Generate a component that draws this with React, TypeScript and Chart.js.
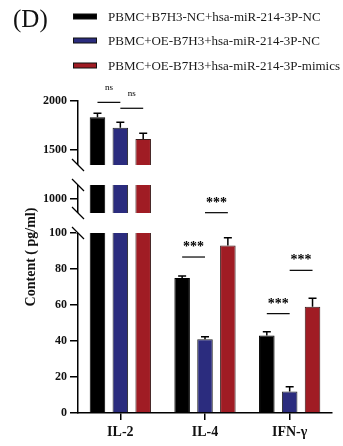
import React, { useEffect, useRef } from 'react';
import { Chart, registerables, LinearScale } from 'chart.js';

const categories = ['IL-2', 'IL-4', 'IFN-γ'];
const seriesNames = [
  'PBMC+B7H3-NC+hsa-miR-214-3P-NC',
  'PBMC+OE-B7H3+hsa-miR-214-3P-NC',
  'PBMC+OE-B7H3+hsa-miR-214-3P-mimics',
];
const controlValues = [1834, 75, 43];
const controlErrors = [40, 1.1, 2.2];
const oeValues = [1728, 41, 12];
const oeErrors = [55, 1.3, 2.6];
const mimicValues = [1612, 93, 59];
const mimicErrors = [58, 4.4, 4.7];

const yTickValues = [0, 20, 40, 60, 80, 100, 1000, 1500, 2000];

// significance brackets
const sigCategory = [0, 0, 1, 1, 2, 2];
const sigFrom = [0, 1, 0, 1, 0, 1];
const sigTo = [1, 2, 1, 2, 1, 2];
const sigLabels = ['ns', 'ns', '***', '***', '***', '***'];
const sigGaps = [11, 14, 19, 25, 18, 28];

// broken axis: value knots and their fraction along the axis
const breakValues = [0, 100, 950, 1050, 1347, 2000];
const breakFractions = [0, 180 / 312, 200 / 312, 228 / 312, 248 / 312, 1];
const gapRanges: [number, number][] = [
  [100, 950],
  [1050, 1347],
];

const colors = ['#000000', '#2b2c7e', '#a01c24'];
const borders = ['#000000', '#222222', '#3a1a1a'];
const FONT = "'Liberation Serif', 'Times New Roman', serif";

function toFrac(v: number): number {
  for (let i = 1; i < breakValues.length; i++) {
    if (v <= breakValues[i] || i === breakValues.length - 1) {
      const v0 = breakValues[i - 1], v1 = breakValues[i];
      const f0 = breakFractions[i - 1], f1 = breakFractions[i];
      return f0 + ((v - v0) / (v1 - v0)) * (f1 - f0);
    }
  }
  return 0;
}
function fromFrac(f: number): number {
  for (let i = 1; i < breakFractions.length; i++) {
    if (f <= breakFractions[i] || i === breakFractions.length - 1) {
      const v0 = breakValues[i - 1], v1 = breakValues[i];
      const f0 = breakFractions[i - 1], f1 = breakFractions[i];
      return v0 + ((f - f0) / (f1 - f0)) * (v1 - v0);
    }
  }
  return 0;
}

class BrokenScale extends LinearScale {
  static id = 'broken';
  static defaults = { ...(LinearScale as any).defaults };
  getPixelForValue(value: number) {
    if (value === null || value === undefined || isNaN(value)) return NaN;
    return (this as any).getPixelForDecimal(toFrac(value));
  }
  getValueForPixel(pixel: number) {
    return fromFrac((this as any).getDecimalForPixel(pixel));
  }
  buildTicks() {
    return yTickValues.map((v) => ({ value: v }));
  }
}

Chart.register(...registerables, BrokenScale as any);

const allValues = [controlValues, oeValues, mimicValues];
const allErrors = [controlErrors, oeErrors, mimicErrors];

const decorPlugin = {
  id: 'decor',
  afterDatasetsDraw(chart: any) {
    const ctx = chart.ctx as CanvasRenderingContext2D;
    const y = chart.scales.y;
    const area = chart.chartArea;
    const metas = [0, 1, 2].map((i) => chart.getDatasetMeta(i));
    ctx.save();

    // axis breaks
    const lastBar = metas[2].data[0];
    const gxL = area.left - 2;
    const gxR = lastBar.x + lastBar.width / 2 + 3;
    ctx.fillStyle = '#ffffff';
    gapRanges.forEach(([a, b]) => {
      const p1 = y.getPixelForValue(a);
      const p2 = y.getPixelForValue(b);
      ctx.fillRect(gxL, p2, gxR - gxL, p1 - p2);
    });
    ctx.strokeStyle = '#000';
    ctx.lineWidth = 1.3;
    gapRanges.forEach(([a, b]) => {
      [a, b].forEach((v) => {
        const p = y.getPixelForValue(v);
        ctx.beginPath();
        ctx.moveTo(area.left - 6, p - 6);
        ctx.lineTo(area.left + 6, p + 6);
        ctx.stroke();
      });
    });

    // error bars
    ctx.lineWidth = 1.5;
    metas.forEach((m: any, di: number) => {
      m.data.forEach((el: any, i: number) => {
        const top = y.getPixelForValue(allValues[di][i] + allErrors[di][i]);
        ctx.beginPath();
        ctx.moveTo(el.x, el.y);
        ctx.lineTo(el.x, top);
        ctx.moveTo(el.x - 4, top);
        ctx.lineTo(el.x + 4, top);
        ctx.stroke();
      });
    });

    // significance
    ctx.fillStyle = '#000';
    ctx.textAlign = 'center';
    ctx.textBaseline = 'alphabetic';
    for (let k = 0; k < sigLabels.length; k++) {
      const c = sigCategory[k];
      const a = metas[sigFrom[k]].data[c];
      const b = metas[sigTo[k]].data[c];
      const ta = y.getPixelForValue(allValues[sigFrom[k]][c] + allErrors[sigFrom[k]][c]);
      const tb = y.getPixelForValue(allValues[sigTo[k]][c] + allErrors[sigTo[k]][c]);
      const ly = Math.min(ta, tb) - sigGaps[k];
      ctx.lineWidth = 1.2;
      ctx.beginPath();
      ctx.moveTo(a.x, ly);
      ctx.lineTo(b.x, ly);
      ctx.stroke();
      if (sigLabels[k] === 'ns') {
        ctx.font = `9px ${FONT}`;
        ctx.fillText(sigLabels[k], (a.x + b.x) / 2, ly - 12);
      } else {
        ctx.font = `bold 14px ${FONT}`;
        ctx.fillText(sigLabels[k], (a.x + b.x) / 2, ly - 6);
      }
    }

    // panel label
    ctx.textAlign = 'left';
    ctx.font = `25px ${FONT}`;
    ctx.fillStyle = '#111';
    ctx.fillText('(D)', 13, 27);

    // legend
    const rowY = [16.5, 40.5, 65.5];
    ctx.font = `13px ${FONT}`;
    seriesNames.forEach((name, i) => {
      ctx.fillStyle = colors[i];
      ctx.fillRect(73, rowY[i] - 2.5, 24, 5);
      ctx.strokeStyle = '#111';
      ctx.lineWidth = 1;
      ctx.strokeRect(73.5, rowY[i] - 2.5, 23, 5);
      ctx.fillStyle = '#1a1a1a';
      ctx.fillText(name, 108, rowY[i] + 4.5);
    });
    ctx.restore();
  },
};

export default function App() {
  const ref = useRef<HTMLCanvasElement | null>(null);
  useEffect(() => {
    document.body.style.margin = '0';
    const canvas = ref.current!;
    const chart = new Chart(canvas, {
      type: 'bar',
      data: {
        labels: categories,
        datasets: [controlValues, oeValues, mimicValues].map((vals, i) => ({
          label: seriesNames[i],
          data: vals,
          backgroundColor: colors[i],
          borderColor: borders[i],
          borderWidth: 1,
          categoryPercentage: 0.81,
          barPercentage: 0.68,
        })),
      },
      options: {
        animation: false,
        responsive: false,
        devicePixelRatio: 1,
        layout: { padding: { top: 101, left: 0, right: 11, bottom: 0 } },
        plugins: { legend: { display: false }, tooltip: { enabled: false } },
        scales: {
          x: {
            type: 'category',
            offset: true,
            grid: {
              display: true,
              drawOnChartArea: false,
              drawTicks: true,
              tickLength: 7,
              offset: false,
              color: '#000',
              lineWidth: 1.5,
            },
            border: { display: true, color: '#000', width: 1.5 },
            ticks: {
              color: '#111',
              padding: 4,
              font: { family: FONT, size: 14, weight: 'bold' },
              maxRotation: 0,
            },
            afterFit: (s: any) => {
              s.height = 33;
            },
          },
          y: {
            type: 'broken' as any,
            min: 0,
            max: 2000,
            grid: {
              display: true,
              drawOnChartArea: false,
              drawTicks: true,
              tickLength: 8,
              color: '#000',
              lineWidth: 1.5,
            },
            border: { display: true, color: '#000', width: 1.5 },
            ticks: {
              color: '#111',
              padding: 3,
              autoSkip: false,
              font: { family: FONT, size: 12, weight: 'bold' },
              callback: (v: any) => String(v),
            },
            title: {
              display: true,
              text: 'Content ( pg/ml)',
              color: '#111',
              font: { family: FONT, size: 14, weight: 'bold' },
              padding: { top: 23, bottom: 0 },
            },
            afterFit: (s: any) => {
              s.width = 78;
            },
          },
        },
      },
      plugins: [decorPlugin],
    } as any);
    return () => chart.destroy();
  }, []);
  return (
    <div style={{ width: 343, height: 446, background: '#fff' }}>
      <canvas ref={ref} width={343} height={446} />
    </div>
  );
}
